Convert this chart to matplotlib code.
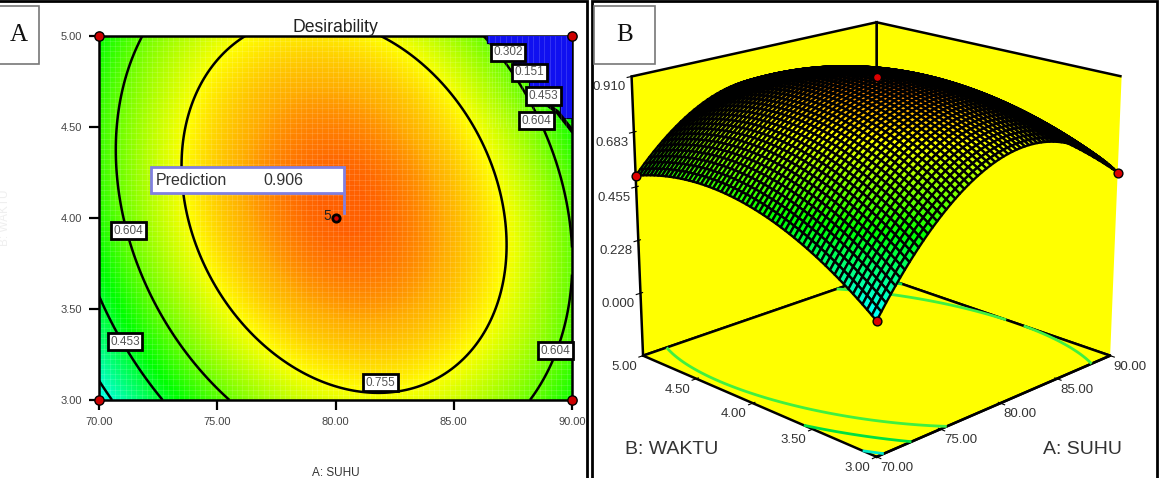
import numpy as np
import matplotlib
matplotlib.use("Agg")
import matplotlib.pyplot as plt
from matplotlib.colors import LinearSegmentedColormap, Normalize
from matplotlib.patches import Rectangle
from mpl_toolkits.mplot3d import proj3d

plt.rcParams['font.family'] = ['Liberation Sans', 'DejaVu Sans']

# desirability, rows are waktu, columns are suhu
suhu = [70.0, 72.5, 75.0, 77.5, 80.0, 82.5, 85.0, 87.5, 90.0]
waktu = [3.0, 3.5, 4.0, 4.5, 5.0]
d_300 = [0.258, 0.441, 0.581, 0.678, 0.731, 0.742, 0.709, 0.633, 0.514]
d_350 = [0.434, 0.605, 0.732, 0.817, 0.858, 0.856, 0.812, 0.723, 0.598]
d_400 = [0.533, 0.691, 0.807, 0.879, 0.909, 0.895, 0.838, 0.738, 0.600]
d_450 = [0.555, 0.702, 0.805, 0.866, 0.883, 0.857, 0.788, 0.676, 0.520]
d_500 = [0.501, 0.636, 0.727, 0.776, 0.781, 0.743, 0.661, 0.537, 0.370]

niveles = [0.302, 0.453, 0.604, 0.755]
colores_suelo = ["#00e8c8", "#00e040", "#40f040"]

# zone with no desirability, top right corner
zona_a = [86.4, 86.4, 87.0, 87.0, 87.5, 87.5, 88.2, 88.2, 89.0, 89.0, 89.5, 89.5, 90.0, 90.0]
zona_b = [5.0, 4.96, 4.96, 4.88, 4.88, 4.80, 4.80, 4.71, 4.71, 4.62, 4.62, 4.55, 4.55, 5.0]

# contour labels
etiq_txt = ["0.604", "0.453", "0.755", "0.604", "0.604", "0.453", "0.151", "0.302"]
etiq_a = [71.25, 71.1, 81.9, 89.3, 88.5, 88.8, 88.2, 87.3]
etiq_b = [3.93, 3.32, 3.095, 3.27, 4.535, 4.67, 4.80, 4.91]

# design points
pts_a = [70, 70, 90, 90]
pts_b = [3, 5, 3, 5]
pred_a = 80.0
pred_b = 4.0
pred_val = 0.906

ticks_a = [70, 75, 80, 85, 90]
ticks_b = [3, 3.5, 4, 4.5, 5]
ticks_z = [0.0, 0.228, 0.455, 0.683, 0.910]

W, H = 1162, 478


def caja(x0, y0, x1, y1):
    # pixel box to figure fractions
    return [x0 / W, 1 - y1 / H, (x1 - x0) / W, (y1 - y0) / H]


colores = [(0.0, "#0000ff"), (0.25, "#00ffff"), (0.5, "#00ff00"), (0.76, "#ffff00"), (0.85, "#ffae00"), (0.91, "#ff6000"), (1.0, "#ff5000")]
mapa = LinearSegmentedColormap.from_list("desir", colores)
norma = Normalize(0, 1)


def terminos(a, b):
    return np.stack([np.ones_like(a), a, b, a * a, a * b, b * b], axis=-1)


# second order response surface through the values that were read
X, Y = np.meshgrid(suhu, waktu)
Z = np.array([d_300, d_350, d_400, d_450, d_500])
coef = np.linalg.lstsq(terminos(X.ravel() - 80, Y.ravel() - 4), Z.ravel(), rcond=None)[0]


def malla(n):
    gx, gy = np.meshgrid(np.linspace(70, 90, n), np.linspace(3, 5, n))
    return gx, gy, terminos(gx - 80, gy - 4) @ coef


fig = plt.figure(figsize=(W / 100, H / 100), dpi=100)

# ---- panel A
ax = fig.add_axes(caja(99, 36, 572, 400))
gx, gy, gz = malla(240)
ax.pcolormesh(gx, gy, gz, cmap=mapa, norm=norma, shading="gouraud")
ax.vlines(np.linspace(70, 90, 90), 3, 5, color="white", lw=0.5, alpha=0.18)
ax.hlines(np.linspace(3, 5, 72), 70, 90, color="white", lw=0.5, alpha=0.18)
ax.contour(gx, gy, gz, levels=niveles, colors="black", linewidths=1.8)
ax.fill(zona_a, zona_b, color="#1010f0", zorder=3)
ax.plot(zona_a[:13], zona_b[:13], color="black", lw=0.6, zorder=3)
ax.plot([88.6, 89.4, 90], [4.66, 4.58, 4.48], color="black", lw=3, zorder=3)
ax.vlines(np.linspace(86.5, 90, 16), 4.5, 5, color="white", lw=0.5, alpha=0.2, zorder=3)
ax.set_xlim(70, 90)
ax.set_ylim(3, 5)
ax.set_xticks(ticks_a, ["%.2f" % t for t in ticks_a])
ax.set_yticks(ticks_b, ["%.2f" % t for t in ticks_b])
ax.tick_params(length=7, width=1.6, labelsize=8, labelcolor="#444444", pad=5)
for s in ax.spines.values():
    s.set_linewidth(1.8)
ax.set_title("Desirability", fontsize=12.7, color="#222222", pad=3)
ax.set_xlabel("A: SUHU", fontsize=8.5, color="#333333", labelpad=29)
ax.set_ylabel("B: WAKTU", fontsize=8.5, color="#efefef", labelpad=36)

for t, a, b in zip(etiq_txt, etiq_a, etiq_b):
    ax.text(a, b, t, fontsize=8.5, color="#555555", ha="center", va="center", zorder=5,
            bbox=dict(boxstyle="square,pad=0.22", fc="white", ec="black", lw=2))

ax.scatter(pts_a, pts_b, s=45, c="#cc0000", edgecolors="black", linewidths=1, clip_on=False, zorder=6)
ax.scatter([pred_a], [pred_b], s=28, c="#cc0000", edgecolors="black", linewidths=2, zorder=6)
ax.text(pred_a - 0.18, pred_b + 0.01, "5", fontsize=10, color="#222222", ha="right", va="center", zorder=6)

# prediction flag
ax.add_patch(Rectangle((72.2, 4.14), 8.16, 0.14, fc="white", ec="#8080e0", lw=2, zorder=7))
ax.plot([80.36, 80.36], [4.14, 4.03], color="#8080e0", lw=2, zorder=6)
ax.text(72.4, 4.205, "Prediction", fontsize=11.5, color="#333333", va="center", zorder=8)
ax.text(76.95, 4.205, "%.3f" % pred_val, fontsize=11.5, color="#333333", va="center", zorder=8)

# ---- panel B
suelo = -0.275
ax3 = fig.add_axes(caja(588, -54, 1150, 508), projection="3d")
ax3.computed_zorder = False
ax3.patch.set_alpha(0)
ax3.set_proj_type("persp", focal_length=0.64)
ax3.view_init(elev=18.5, azim=-135)
ax3.set_xlim(70, 90)
ax3.set_ylim(3, 5)
ax3.set_zlim(suelo, 0.91)
ax3.set_box_aspect((1, 1, 0.87), zoom=0.97)
ax3.grid(False)
for eje in (ax3.xaxis, ax3.yaxis, ax3.zaxis):
    eje.set_pane_color("#ffff00")
    eje.pane.set_edgecolor("black")
    eje.pane.set_linewidth(1.8)
    eje.line.set_color("black")
    eje.line.set_linewidth(1.8)
ax3.set_xticks(ticks_a, [""] * 5)
ax3.set_yticks(ticks_b, [""] * 5)
ax3.set_zticks(ticks_z, [""] * 5)

gx3, gy3, gz3 = malla(58)
for nivel, color in zip(niveles[:3], colores_suelo):
    ax3.contour(gx3, gy3, gz3, levels=[nivel], zdir="z", offset=suelo, colors=[color], linewidths=2, zorder=1)
ax3.plot_surface(gx3, gy3, gz3, facecolors=mapa(norma(gz3)), edgecolor="black", linewidth=1.7,
                 rstride=1, cstride=1, shade=False, zorder=2)
ax3.scatter(pts_a[:3], pts_b[:3], [d_300[0], d_500[0], d_300[-1]], s=40, c="#dd0000", edgecolors="black",
            depthshade=False, zorder=4)
ax3.scatter([pred_a], [pred_b], [pred_val], s=14, c="#dd0000", depthshade=False, zorder=4)


def rotulo(x, y, z, txt, dx, dy):
    # tick label tied to the projected point of the axis
    px, py, _ = proj3d.proj_transform(x, y, z, ax3.get_proj())
    ax3.annotate(txt, xy=(px, py), xytext=(dx, dy), textcoords="offset pixels", fontsize=9.5,
                 color="#333333", ha="center", va="center", annotation_clip=False)


for t in ticks_a:
    rotulo(t, 3, suelo, "%.2f" % t, 20, -11)
for t in ticks_b:
    rotulo(70, t, suelo, "%.2f" % t, -19, -11)
for t in ticks_z:
    rotulo(70, 5, t, "%.3f" % t, -22, -11)
fig.text(625 / W, 1 - 449 / H, "B: WAKTU", fontsize=14, color="#333333", va="center")
fig.text(1043 / W, 1 - 449 / H, "A: SUHU", fontsize=14, color="#333333", va="center")

# ---- frames and letters
for x0, y0, x1, y1 in [(-2, 1, 587, 490), (592, 1, 1157, 490)]:
    fig.add_artist(Rectangle((x0 / W, 1 - y1 / H), (x1 - x0) / W, (y1 - y0) / H, transform=fig.transFigure,
                             fc="none", ec="black", lw=2))
for x0, y0, x1, y1, letra in [(-2, 6, 39, 64, "A"), (594, 6, 655, 64, "B")]:
    fig.add_artist(Rectangle((x0 / W, 1 - y1 / H), (x1 - x0) / W, (y1 - y0) / H, transform=fig.transFigure,
                             fc="white", ec="#777777", lw=1.2))
    fig.text((x0 + x1) / 2 / W, 1 - (y0 + y1) / 2 / H, letra, fontsize=18, family="Liberation Serif",
             color="#111111", ha="center", va="center")

fig.savefig("out.png", dpi=100)
